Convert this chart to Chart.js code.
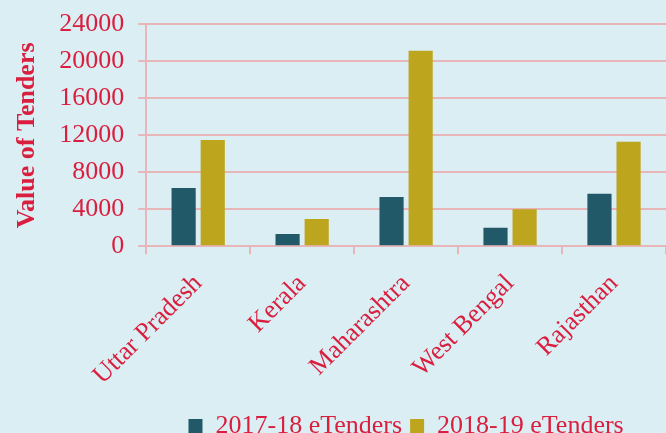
<!DOCTYPE html>
<html lang="en">
<head>
    <meta charset="UTF-8">
    <title>Value of Tenders</title>
    <script src="https://cdn.jsdelivr.net/npm/chart.js@4.4.0/dist/chart.umd.min.js"></script>
    <style>
        html, body {
            margin: 0;
            padding: 0;
            background: #dbeef4;
        }
        .wrap {
            width: 666px;
            height: 433px;
        }
    </style>
</head>
<body>
    <div class="wrap">
        <canvas id="tenders"></canvas>
    </div>

    <script>
        const states = ["Uttar Pradesh", "Kerala", "Maharashtra", "West Bengal", "Rajasthan"];
        const tenders1718 = [6300, 1350, 5330, 2020, 5700];
        const tenders1819 = [11500, 2950, 21150, 4000, 11300];
        const yTicks = [0, 4000, 8000, 12000, 16000, 20000, 24000];

        const red = '#d91e3e';
        const gridPink = '#e8b6b9';
        const serif = "'Liberation Serif', 'Times New Roman', serif";

        new Chart(document.getElementById('tenders'), {
            type: 'bar',
            data: {
                labels: states,
                datasets: [{
                    label: '2017-18 eTenders',
                    data: tenders1718,
                    backgroundColor: '#215968'
                }, {
                    label: '2018-19 eTenders',
                    data: tenders1819,
                    backgroundColor: '#bda51d'
                }]
            },
            options: {
                responsive: true,
                maintainAspectRatio: false,
                animation: false,
                datasets: {
                    bar: {
                        categoryPercentage: 0.56,
                        barPercentage: 0.83
                    }
                },
                layout: {
                    padding: { top: 0, left: 12, right: 0, bottom: -16 }
                },
                plugins: {
                    tooltip: { enabled: false },
                    legend: {
                        position: 'bottom',
                        align: 'center',
                        fullSize: false,
                        labels: {
                            color: red,
                            font: { family: serif, size: 26 },
                            boxWidth: 14,
                            boxHeight: 14,
                            padding: 8
                        }
                    }
                },
                scales: {
                    x: {
                        grid: {
                            display: true,
                            drawOnChartArea: false,
                            drawTicks: true,
                            tickLength: 8,
                            color: gridPink,
                            lineWidth: 2
                        },
                        border: { color: gridPink, width: 2 },
                        ticks: {
                            color: red,
                            font: { family: serif, size: 26 },
                            minRotation: 45,
                            maxRotation: 45,
                            autoSkip: false,
                            padding: 14
                        }
                    },
                    y: {
                        min: 0,
                        max: 24000,
                        afterBuildTicks: (axis) => {
                            axis.ticks = yTicks.map(v => ({ value: v }));
                        },
                        grid: {
                            color: gridPink,
                            lineWidth: 2,
                            tickLength: 8
                        },
                        border: { color: gridPink, width: 2 },
                        ticks: {
                            color: red,
                            font: { family: serif, size: 26, lineHeight: 0.8 },
                            padding: 14,
                            autoSkip: false,
                            callback: (v) => String(v)
                        },
                        title: {
                            display: true,
                            text: 'Value of Tenders',
                            color: red,
                            font: { family: serif, size: 26, weight: 'bold' },
                            padding: { top: 0, bottom: 2 }
                        }
                    }
                }
            }
        });
    </script>
</body>
</html>
